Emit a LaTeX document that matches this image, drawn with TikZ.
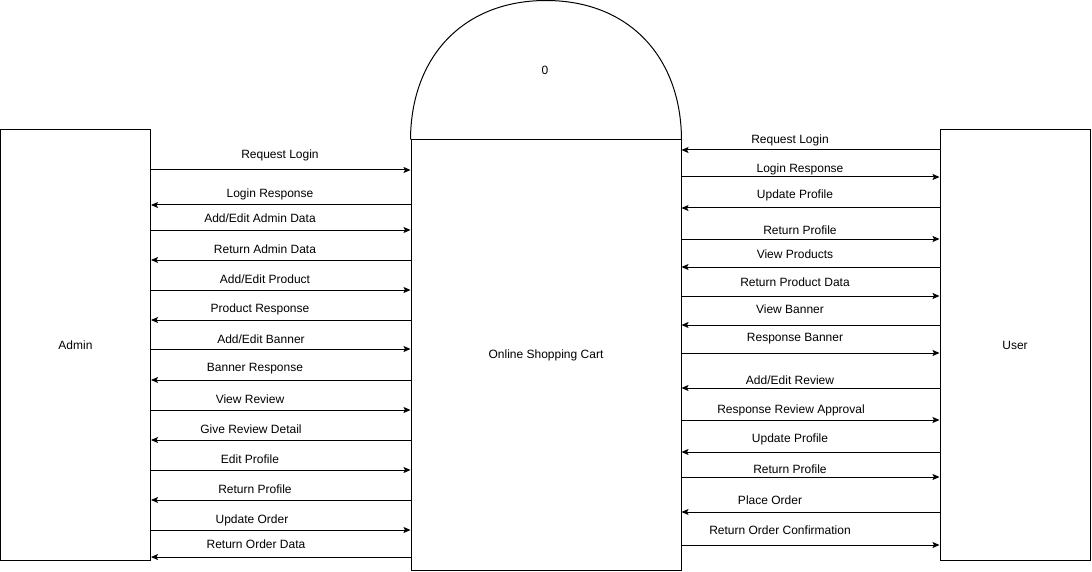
\documentclass[tikz,border=0pt]{standalone}
\usepackage{fontspec}
\setmainfont{Liberation Sans}
\usetikzlibrary{arrows.meta}
\tikzset{
  box/.style={draw, line width=1pt, rectangle, inner sep=0pt, font=\fontsize{12}{14}\selectfont},
  flow/.style={line width=1pt, -{Stealth[length=7pt,width=6pt,inset=1.5pt]}},
  lbl/.style={inner sep=0pt, font=\fontsize{12}{14}\selectfont}
}
\begin{document}
\begin{tikzpicture}[x=1pt,y=-1pt]
\useasboundingbox (0,0) rectangle (1092,572);
% entities
\node[box, minimum width=150pt, minimum height=430pt] (admin) at (75.5,345) {Admin};
\node[box, minimum width=150pt, minimum height=430pt] (user) at (1015,345) {User};
\node[box, minimum width=270pt, minimum height=430pt] (cart) at (546,355) {Online Shopping Cart};
\coordinate (top) at (546,0.5);
\draw[line width=1pt] (cart.north west) .. controls (411,56) and (464,0.5) .. (top)
  .. controls (628,0.5) and (681,56) .. (cart.north east);
\node[lbl] (num) at (545,70) {0};
% Admin side
\draw[flow] (admin.east |- 0,170) -- (cart.west |- 0,170);
\node[lbl] (a1) at (280,155) {Request Login};
\draw[flow] (cart.west |- 0,205) -- (admin.east |- 0,205);
\node[lbl] (a2) at (270,194) {Login Response};
\draw[flow] (admin.east |- 0,230) -- (cart.west |- 0,230);
\node[lbl] (a3) at (260,218) {Add/Edit Admin Data};
\draw[flow] (cart.west |- 0,260) -- (admin.east |- 0,260);
\node[lbl] (a4) at (265,249) {Return Admin Data};
\draw[flow] (admin.east |- 0,290) -- (cart.west |- 0,290);
\node[lbl] (a5) at (265,279) {Add/Edit Product};
\draw[flow] (cart.west |- 0,320) -- (admin.east |- 0,320);
\node[lbl] (a6) at (260,309) {Product Response};
\draw[flow] (admin.east |- 0,349) -- (cart.west |- 0,349);
\node[lbl] (a7) at (261,339) {Add/Edit Banner};
\draw[flow] (cart.west |- 0,380) -- (admin.east |- 0,380);
\node[lbl] (a8) at (255,369) {Banner Response};
\draw[flow] (admin.east |- 0,410) -- (cart.west |- 0,410);
\node[lbl] (a9) at (250,399) {View Review};
\draw[flow] (cart.west |- 0,440) -- (admin.east |- 0,440);
\node[lbl] (a10) at (251,429) {Give Review Detail};
\draw[flow] (admin.east |- 0,470) -- (cart.west |- 0,470);
\node[lbl] (a11) at (250,459) {Edit Profile};
\draw[flow] (cart.west |- 0,500) -- (admin.east |- 0,500);
\node[lbl] (a12) at (255,489) {Return Profile};
\draw[flow] (admin.east |- 0,530) -- (cart.west |- 0,530);
\node[lbl] (a13) at (252,520) {Update Order};
\draw[flow] (cart.west |- 0,557) -- (admin.east |- 0,557);
\node[lbl] (a14) at (256,544) {Return Order Data};
% User side
\draw[flow] (user.west |- 0,150) -- (cart.east |- 0,150);
\node[lbl] (u1) at (790,140) {Request Login};
\draw[flow] (cart.east |- 0,177) -- (user.west |- 0,177);
\node[lbl] (u2) at (800,169) {Login Response};
\draw[flow] (user.west |- 0,208) -- (cart.east |- 0,208);
\node[lbl] (u3) at (795,195) {Update Profile};
\draw[flow] (cart.east |- 0,239) -- (user.west |- 0,239);
\node[lbl] (u4) at (800,230) {Return Profile};
\draw[flow] (user.west |- 0,267) -- (cart.east |- 0,267);
\node[lbl] (u5) at (795,254) {View Products};
\draw[flow] (cart.east |- 0,296) -- (user.west |- 0,296);
\node[lbl] (u6) at (795,282) {Return Product Data};
\draw[flow] (user.west |- 0,325) -- (cart.east |- 0,325);
\node[lbl] (u7) at (790,309) {View Banner};
\draw[flow] (cart.east |- 0,353) -- (user.west |- 0,353);
\node[lbl] (u8) at (795,339) {Response Banner};
\draw[flow] (user.west |- 0,388) -- (cart.east |- 0,388);
\node[lbl] (u9) at (790,380) {Add/Edit Review};
\draw[flow] (cart.east |- 0,420) -- (user.west |- 0,420);
\node[lbl] (u10) at (791,410) {Response Review Approval};
\draw[flow] (user.west |- 0,452) -- (cart.east |- 0,452);
\node[lbl] (u11) at (790,439) {Update Profile};
\draw[flow] (cart.east |- 0,477) -- (user.west |- 0,477);
\node[lbl] (u12) at (790,469) {Return Profile};
\draw[flow] (user.west |- 0,512) -- (cart.east |- 0,512);
\node[lbl] (u13) at (770,500) {Place Order};
\draw[flow] (cart.east |- 0,545) -- (user.west |- 0,545);
\node[lbl] (u14) at (780,530) {Return Order Confirmation};
\end{tikzpicture}
\end{document}
